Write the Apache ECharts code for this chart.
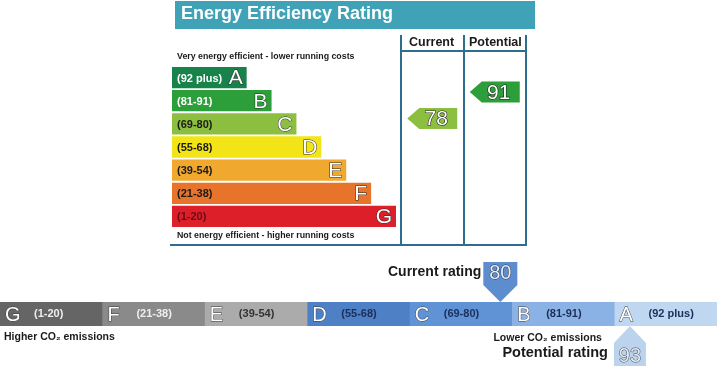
<!DOCTYPE html>
<html><head><meta charset="utf-8">
<script src="https://cdn.jsdelivr.net/npm/echarts@6/dist/echarts.min.js"></script>
<style>html,body{margin:0;padding:0;background:#fff}#c{width:717px;height:366px}</style>
</head><body><div id="c"></div>
<script>
// ---- data ----
const eeLetters = ['A','B','C','D','E','F','G'];
const eeRanges = ['(92 plus)','(81-91)','(69-80)','(55-68)','(39-54)','(21-38)','(1-20)'];
const eeLow = [92,81,69,55,39,21,1];
const eeHigh = [100,91,80,68,54,38,20];
const eeBarLength = [3,4,5,6,7,8,9];
const ratingColumns = ['Current','Potential'];
const eeValues = [78, 91];
const eiLetters = ['G','F','E','D','C','B','A'];
const eiRanges = ['(1-20)','(21-38)','(39-54)','(55-68)','(69-80)','(81-91)','(92 plus)'];
const eiLow = [1,21,39,55,69,81,92];
const eiHigh = [20,38,54,68,80,91,100];
const eiValues = [80, 93];

// ---- styles ----
const FONT = '"Liberation Sans", Arial, sans-serif';
const eeColors = ['#17824a','#2c9e3a','#8cbf3f','#f3e418','#f0a82e','#e8732a','#dd1f2a'];
const eeRangeText = ['#ffffff','#ffffff','#1a1a1a','#1a1a1a','#1a1a1a','#1a1a1a','#6a0c14'];
const eiColors = ['#656565','#8a8a8a','#ababab','#4d80c5','#5f93d6','#8bb2e5','#bfd7f0'];
const eiRangeText = ['#eeeeee','#eeeeee','#333333','#1b2f5a','#1b2f5a','#1b2f5a','#1b2f5a'];
const frameColor = '#2d6d8d';

function bandOf(v, lows, highs){
  for (let i=0;i<lows.length;i++){ if (v>=lows[i] && v<=highs[i]) return i; }
  return 0;
}
function frac(v, i, lows, highs){ return (v-lows[i]+0.5)/(highs[i]-lows[i]+2); }

const chart = echarts.init(document.getElementById('c'), null, {renderer:'canvas'});

const option = {
  animation:false,
  grid:[
    {left:172, top:66, width:224, height:162},
    {left:401, top:66, width:125, height:162},
    {left:0, top:302, width:717, height:24}
  ],
  xAxis:[
    {gridIndex:0, type:'value', min:0, max:9, show:false},
    {gridIndex:1, type:'category', data:ratingColumns, show:false},
    {gridIndex:2, type:'value', min:0, max:7, show:false}
  ],
  yAxis:[
    {gridIndex:0, type:'category', data:eeLetters, inverse:true, show:false},
    {gridIndex:1, type:'value', min:0, max:7, inverse:true, show:false},
    {gridIndex:2, type:'value', min:0, max:1, show:false}
  ],
  series:[
    { // energy efficiency bands
      type:'custom', xAxisIndex:0, yAxisIndex:0,
      data: eeBarLength.map((v,i)=>[v,i]),
      renderItem:function(params, api){
        const i = api.value(1);
        const p0 = api.coord([0,i]);
        const p1 = api.coord([api.value(0), i]);
        const h = api.size([0,1])[1]*0.92;
        return {type:'group', children:[
          {type:'rect', shape:{x:p0[0], y:p0[1]-h/2, width:p1[0]-p0[0], height:h}, style:{fill:eeColors[i]}},
          {type:'text', style:{text:eeRanges[i], x:p0[0]+5, y:p0[1]+1, font:'bold 11px '+FONT, fill:eeRangeText[i], align:'left', verticalAlign:'middle'}},
          {type:'text', style:{text:eeLetters[i], x:p1[0]-4, y:p0[1]+1, font:'21px '+FONT, fill:'#ffffff', stroke:'#2a2a2a', lineWidth:1, align:'right', verticalAlign:'middle'}}
        ]};
      }
    },
    { // current / potential arrows
      type:'custom', xAxisIndex:1, yAxisIndex:1,
      data: eeValues.map((v,k)=>{ const i=bandOf(v,eeLow,eeHigh); return [k, i + 1 - frac(v,i,eeLow,eeHigh), v, i]; }),
      renderItem:function(params, api){
        const c = api.coord([api.value(0), api.value(1)]);
        const v = api.value(2), i = api.value(3);
        const hw = 25, hh = 10.5, tip = 12;
        const pts = [[c[0]-hw, c[1]], [c[0]-hw+tip, c[1]-hh], [c[0]+hw, c[1]-hh], [c[0]+hw, c[1]+hh], [c[0]-hw+tip, c[1]+hh]];
        return {type:'group', children:[
          {type:'polygon', shape:{points:pts}, style:{fill:eeColors[i]}},
          {type:'text', style:{text:String(v), x:c[0]+4, y:c[1]+1, font:'21px '+FONT, fill:'#ffffff', stroke:'#1e1e1e', lineWidth:1.2, align:'center', verticalAlign:'middle'}}
        ]};
      }
    },
    { // environmental impact strip
      type:'custom', xAxisIndex:2, yAxisIndex:2,
      data: eiLetters.map((l,i)=>[i]),
      renderItem:function(params, api){
        const i = api.value(0);
        const a = api.coord([i,1]), b = api.coord([i+1,0]);
        const my = (a[1]+b[1])/2;
        return {type:'group', children:[
          {type:'rect', shape:{x:a[0], y:a[1], width:b[0]-a[0]+0.5, height:b[1]-a[1]}, style:{fill:eiColors[i]}},
          {type:'text', style:{text:eiLetters[i], x:a[0]+5, y:my+1, font:'20px '+FONT, fill:'#ffffff', stroke:'#3a3a3a', lineWidth:0.9, align:'left', verticalAlign:'middle'}},
          {type:'text', style:{text:eiRanges[i], x:a[0]+34, y:my, font:'bold 11px '+FONT, fill:eiRangeText[i], align:'left', verticalAlign:'middle'}}
        ]};
      }
    },
    { // environmental arrows
      type:'custom', xAxisIndex:2, yAxisIndex:2,
      data: eiValues.map((v,k)=>{ const i=bandOf(v,eiLow,eiHigh); return [i + frac(v,i,eiLow,eiHigh), k, v, i]; }),
      renderItem:function(params, api){
        const x = api.value(0), k = api.value(1), v = api.value(2), i = api.value(3);
        const top = api.coord([x,1]), bot = api.coord([x,0]);
        if (k===0){
          const hw = 17, tx = top[0], ty = top[1];
          const pts = [[tx, ty], [tx-hw, ty-17], [tx-hw, ty-40], [tx+hw, ty-40], [tx+hw, ty-17]];
          return {type:'group', children:[
            {type:'polygon', shape:{points:pts}, style:{fill:'#5b8dcf'}},
            {type:'text', style:{text:String(v), x:tx, y:ty-29, font:'20px '+FONT, fill:'#e8eef8', stroke:'#2a3350', lineWidth:1, align:'center', verticalAlign:'middle'}},
            {type:'text', style:{text:'Current rating', x:tx-hw-2, y:ty-30, font:'bold 14px '+FONT, fill:'#1a1a1a', align:'right', verticalAlign:'middle'}}
          ]};
        } else {
          const hw = 16, tx = bot[0], ty = bot[1];
          const pts = [[tx, ty], [tx+hw, ty+17], [tx+hw, ty+45], [tx-hw, ty+45], [tx-hw, ty+17]];
          return {type:'group', children:[
            {type:'polygon', shape:{points:pts}, style:{fill:'#bcd3ee'}},
            {type:'text', style:{text:String(v), x:tx, y:ty+30, font:'20px '+FONT, fill:'#dfe6ef', stroke:'#4a4f5a', lineWidth:1, align:'center', verticalAlign:'middle'}},
            {type:'text', style:{text:'Potential rating', x:tx-22, y:ty+27, font:'bold 14.5px '+FONT, fill:'#1a1a1a', align:'right', verticalAlign:'middle'}},
            {type:'text', style:{text:'Lower CO\u2082 emissions', x:tx-28, y:ty+12, font:'bold 10.5px '+FONT, fill:'#1a1a1a', align:'right', verticalAlign:'middle'}}
          ]};
        }
      }
    }
  ],
  graphic:[
    {type:'rect', left:175, top:1, shape:{width:360, height:28}, style:{fill:'#40a2b6'}, silent:true},
    {type:'text', left:181, top:5, style:{text:'Energy Efficiency Rating', font:'bold 18px '+FONT, fill:'#ffffff'}},
    {type:'text', left:177, top:52, style:{text:'Very energy efficient - lower running costs', font:'bold 8.8px '+FONT, fill:'#1a1a1a'}},
    {type:'text', left:177, top:231, style:{text:'Not energy efficient - higher running costs', font:'bold 8.8px '+FONT, fill:'#1a1a1a'}},
    {type:'text', left:4, top:332, style:{text:'Higher CO\u2082 emissions', font:'bold 10.5px '+FONT, fill:'#1a1a1a'}},
    {type:'text', left:409, top:36, style:{text:'Current', font:'bold 12.5px '+FONT, fill:'#1a1a1a'}},
    {type:'text', left:469, top:36, style:{text:'Potential', font:'bold 12.5px '+FONT, fill:'#1a1a1a'}},
    {type:'line', shape:{x1:401, y1:35, x2:401, y2:245}, style:{stroke:frameColor, lineWidth:2}},
    {type:'line', shape:{x1:464, y1:35, x2:464, y2:245}, style:{stroke:frameColor, lineWidth:2}},
    {type:'line', shape:{x1:526, y1:35, x2:526, y2:246}, style:{stroke:frameColor, lineWidth:2}},
    {type:'line', shape:{x1:401, y1:51, x2:526, y2:51}, style:{stroke:frameColor, lineWidth:2}},
    {type:'line', shape:{x1:170, y1:245, x2:527, y2:245}, style:{stroke:frameColor, lineWidth:2}}
  ]
};
chart.setOption(option);
</script></body></html>
